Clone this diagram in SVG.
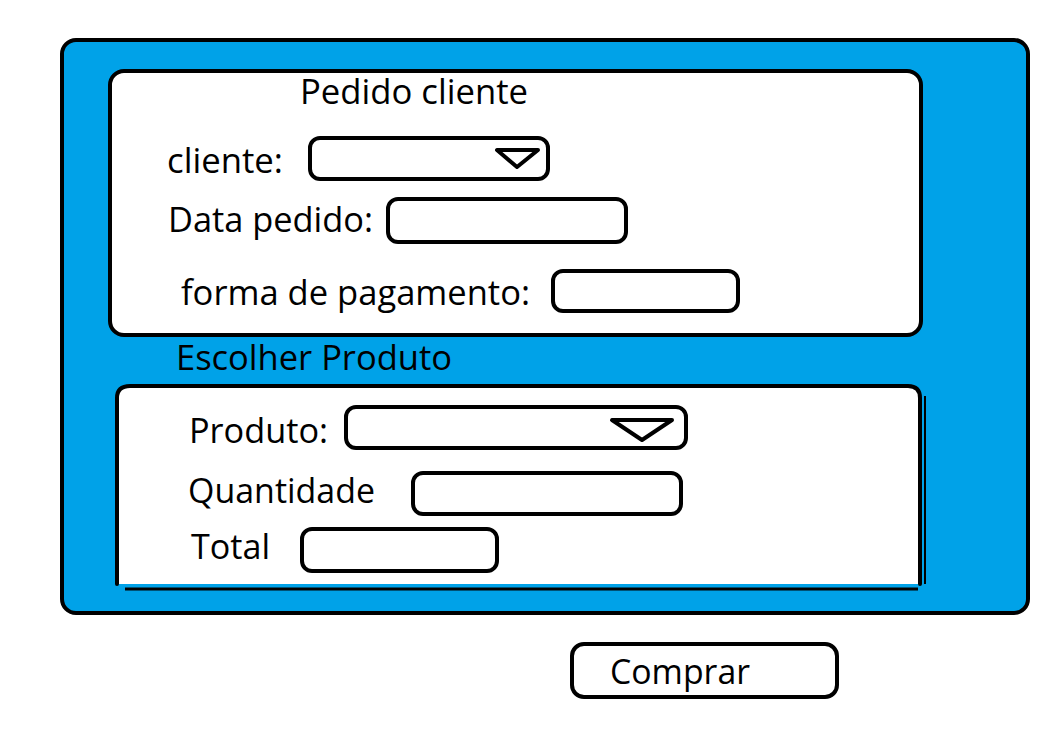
<svg xmlns="http://www.w3.org/2000/svg" width="1042" height="740" viewBox="0 0 1042 740">
<style>
.ln{stroke:#000;stroke-width:4;fill:none;stroke-linejoin:round;stroke-linecap:round}
.fld{stroke:#000;stroke-width:4;fill:#fff}
.t{font-family:"Open Sans","Noto Sans","Liberation Sans",sans-serif;font-size:34px;fill:#000}
</style>
<rect width="1042" height="740" fill="#fff"/>
<g id="window">
<rect x="62" y="40" width="966" height="573" rx="14" fill="#00a2e8" stroke="#000" stroke-width="4"/>
</g>
<g id="pedido-panel">
<rect x="110" y="71" width="811" height="264" rx="14" class="fld"/>
<text class="t" x="300" y="104" textLength="228" lengthAdjust="spacingAndGlyphs">Pedido cliente</text>
</g>
<g id="cliente">
<text class="t" x="167" y="173" textLength="116" lengthAdjust="spacingAndGlyphs">cliente:</text>
<rect x="310" y="138" width="238" height="41" rx="10" class="fld"/>
<polygon points="497,150 538,150 517,167" class="ln"/>
</g>
<g id="data-pedido">
<text class="t" x="168" y="232" textLength="205" lengthAdjust="spacingAndGlyphs">Data pedido:</text>
<rect x="388" y="199" width="238" height="43" rx="10" class="fld"/>
</g>
<g id="forma-pagamento">
<text class="t" x="181" y="305" textLength="349" lengthAdjust="spacingAndGlyphs">forma de pagamento:</text>
<rect x="553" y="271" width="185" height="40" rx="10" class="fld"/>
</g>
<g id="escolher-produto">
<text class="t" x="176" y="370" textLength="276" lengthAdjust="spacingAndGlyphs">Escolher Produto</text>
</g>
<g id="produto-panel">
<path d="M117,584 L117,398 Q117,386 130,386 L908,386 Q920,386 920,398 L920,584 Z" fill="#fff"/>
<path d="M117,584 L117,398 Q117,386 130,386 L908,386 Q920,386 920,398 L920,584" class="ln"/>
<line x1="925" y1="396" x2="925" y2="584" stroke="#000" stroke-width="2"/>
<line x1="125" y1="589" x2="918" y2="589" stroke="#000" stroke-width="3"/>
</g>
<g id="produto">
<text class="t" x="189" y="443" textLength="139" lengthAdjust="spacingAndGlyphs">Produto:</text>
<rect x="346" y="407" width="340" height="41" rx="10" class="fld"/>
<polygon points="612,420 672,420 642,440" class="ln"/>
</g>
<g id="quantidade">
<text class="t" x="188" y="503" textLength="187" lengthAdjust="spacingAndGlyphs">Quantidade</text>
<rect x="413" y="473" width="268" height="41" rx="10" class="fld"/>
</g>
<g id="total">
<text class="t" x="191" y="559" textLength="79" lengthAdjust="spacingAndGlyphs">Total</text>
<rect x="302" y="529" width="195" height="42" rx="10" class="fld"/>
</g>
<g id="comprar">
<rect x="572" y="644" width="265" height="53" rx="12" class="fld"/>
<text class="t" x="610" y="684" textLength="140" lengthAdjust="spacingAndGlyphs">Comprar</text>
</g>
<g id="connectors"></g>
</svg>
